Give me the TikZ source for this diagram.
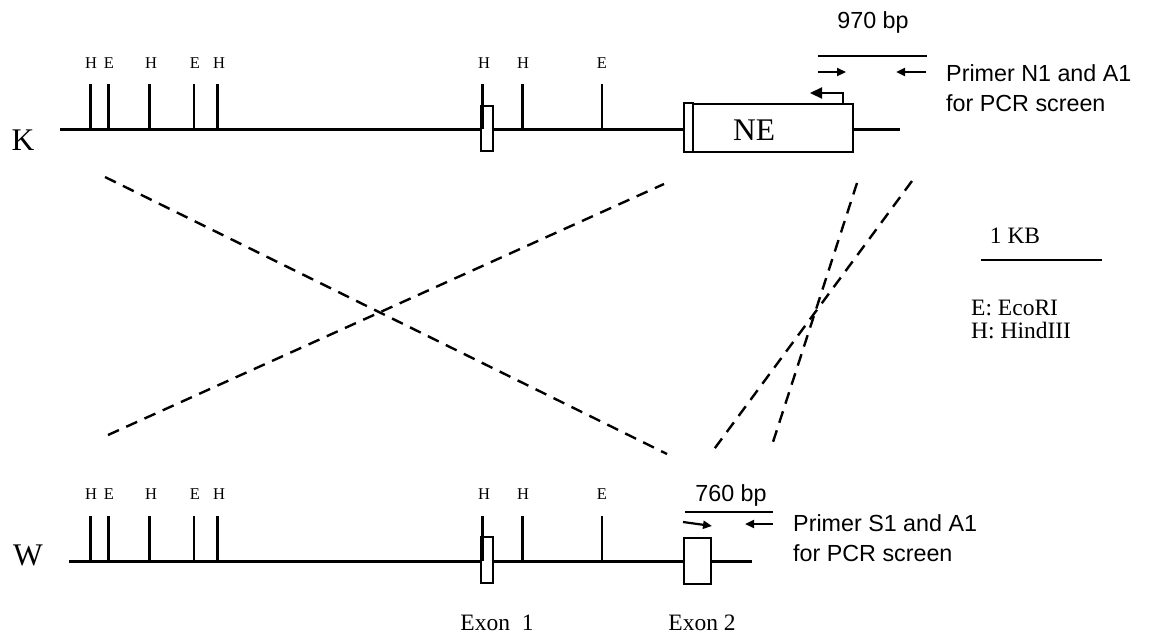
\documentclass[tikz,border=0pt]{standalone}
\usepackage{fontspec}
\setmainfont{Liberation Serif}
\setsansfont{Liberation Sans}
\usetikzlibrary{arrows.meta, positioning}

\begin{document}
\begin{tikzpicture}[
  x=1pt, y=-1pt,
  dna/.style={line width=3pt},
  cut/.style={line width=2.8pt},
  sitelbl/.style={font=\fontsize{16.5}{18}\selectfont, inner sep=0pt},
  exonbox/.style={draw=black, line width=2.3pt, fill=white, inner sep=0pt},
  bigtxt/.style={font=\fontsize{31.5}{36}\selectfont, inner sep=0pt},
  sanstxt/.style={font=\sffamily\fontsize{23.3}{30}\selectfont, inner sep=0pt, align=left},
  sertxt/.style={font=\fontsize{23.5}{23}\selectfont, inner sep=0pt, align=left},
  primer/.style={-{Triangle[length=9pt, width=8pt]}, line width=2.2pt},
  dashline/.style={line width=2.4pt, dash pattern=on 12pt off 8pt},
]
\useasboundingbox (0,0) rectangle (1158,640);

% Knockout allele (K)
\node[bigtxt] (klbl) at (23,140) {K};
\draw[dna] (60,129) -- (900,129);
\node[exonbox, minimum width=12pt, minimum height=45pt] (kex1) at (486.7,128.3) {};
\node[exonbox, minimum width=160pt, minimum height=48pt] (nebox) at (772.7,128.3) {};
\node[exonbox, minimum width=8.4pt, minimum height=49pt] (kex2) at (688.5,127.7) {};
\node[bigtxt] (ne) at (754,130) {NE};

% restriction sites on K
\draw[cut] (90.7,84) -- (90.7,129) (108.3,84) -- (108.3,129) (149.7,84) -- (149.7,129)
  (194,84) -- (194,129) (217.3,84) -- (217.3,129) (482.7,84) -- (482.7,129)
  (522.3,84) -- (522.3,129) (602,84) -- (602,129);
\node[sitelbl] (kh1) at (91,63) {H};
\node[sitelbl] (ke1) at (109,63) {E};
\node[sitelbl] (kh2) at (151,63) {H};
\node[sitelbl] (ke2) at (195,63) {E};
\node[sitelbl] (kh3) at (219,63) {H};
\node[sitelbl] (kh4) at (484,63) {H};
\node[sitelbl] (kh5) at (523,63) {H};
\node[sitelbl] (ke3) at (602,63) {E};

% neo promoter arrow
\coordinate (nestart) at (843,104);
\coordinate (neend) at (810,93);
\draw[-{Triangle[length=12pt, width=11pt]}, line width=2.3pt] (nestart) |- (neend);

% PCR product on K
\node[sanstxt] (kbp) at (873,22) {970 bp};
\coordinate (kbpl) at (818,56);
\coordinate (kbpr) at (927,56);
\draw[line width=2.4pt] (kbpl) -- (kbpr);
\coordinate (n1a) at (818,72);
\coordinate (n1b) at (846,72);
\coordinate (a1a) at (926,72);
\coordinate (a1b) at (896,72);
\draw[primer] (n1a) -- (n1b);
\draw[primer] (a1a) -- (a1b);
\node[sanstxt, anchor=west] (kprimer) at (946,88) {Primer N1 and A1\\for PCR screen};

% Wild type allele (W)
\node[bigtxt] (wlbl) at (28,555) {W};
\draw[dna] (69.3,561) -- (751.7,561);
\node[exonbox, minimum width=12pt, minimum height=46.6pt] (wex1) at (486.7,560) {};
\node[exonbox, minimum width=26.7pt, minimum height=46pt] (wex2) at (697.3,561.3) {};

% restriction sites on W
\draw[cut] (90.7,516) -- (90.7,561) (108.3,516) -- (108.3,561) (149.7,516) -- (149.7,561)
  (194,516) -- (194,561) (217.3,516) -- (217.3,561) (482.7,516) -- (482.7,561)
  (522.3,516) -- (522.3,561) (602,516) -- (602,561);
\node[sitelbl] (wh1) at (91,494) {H};
\node[sitelbl] (we1) at (109,494) {E};
\node[sitelbl] (wh2) at (151,494) {H};
\node[sitelbl] (we2) at (195,494) {E};
\node[sitelbl] (wh3) at (219,494) {H};
\node[sitelbl] (wh4) at (484,494) {H};
\node[sitelbl] (wh5) at (523,494) {H};
\node[sitelbl] (we3) at (602,494) {E};

\node[sertxt] (exon1) at (497,623) {Exon\ \ 1};
\node[sertxt] (exon2) at (702,623) {Exon 2};

% PCR product on W
\node[sanstxt] (wbp) at (731,495) {760 bp};
\coordinate (wbpl) at (685,511.7);
\coordinate (wbpr) at (773.3,511.7);
\draw[line width=2.4pt] (wbpl) -- (wbpr);
\coordinate (s1a) at (683,522);
\coordinate (s1b) at (712,526);
\coordinate (a2a) at (773,524);
\coordinate (a2b) at (745,524);
\draw[primer] (s1a) -- (s1b);
\draw[primer] (a2a) -- (a2b);
\node[sanstxt, anchor=west] (wprimer) at (793,538.5) {Primer S1 and A1\\for PCR screen};

% Homologous recombination
\coordinate (xa1) at (105,177);
\coordinate (xa2) at (667,454);
\coordinate (xb1) at (108,435);
\coordinate (xb2) at (664,184);
\coordinate (xc1) at (912,181);
\coordinate (xc2) at (712,452);
\coordinate (xd1) at (857,183);
\coordinate (xd2) at (773,442);
\draw[dashline] (xa1) -- (xa2);
\draw[dashline] (xb1) -- (xb2);
\draw[dashline] (xc1) -- (xc2);
\draw[dashline] (xd1) -- (xd2);

% Scale and key
\node[sertxt] (kb) at (1015,236) {1 KB};
\coordinate (sbl) at (980.7,260.3);
\coordinate (sbr) at (1101.7,260.3);
\draw[line width=2.2pt] (sbl) -- (sbr);
\node[sertxt, anchor=west] (key) at (971,319) {E: EcoRI\\H: HindIII};

\end{tikzpicture}
\end{document}
